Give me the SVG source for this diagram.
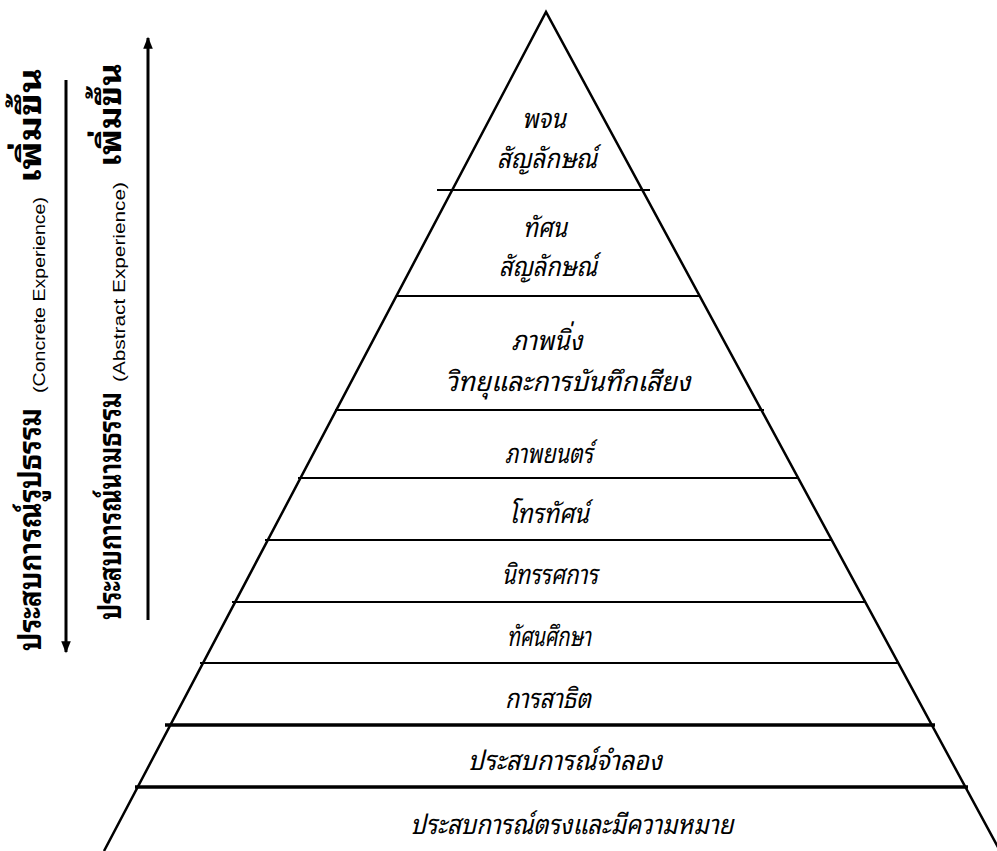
<svg xmlns="http://www.w3.org/2000/svg" width="997" height="851" viewBox="0 0 997 851">
<style>
.edge{fill:none;stroke:#000;stroke-width:2.5;stroke-linejoin:miter}
.sep{stroke:#000;stroke-width:2.2}
.sep2{stroke:#000;stroke-width:3.5}
.lbl{font-family:"Noto Sans Thai Looped","Noto Serif Thai","Noto Sans Thai","Noto Sans","DejaVu Sans",sans-serif;font-style:italic;font-size:27px;fill:#000;text-anchor:middle}
.side{font-family:"Noto Sans Thai Looped","Noto Sans Thai","Noto Sans","DejaVu Sans",sans-serif;font-weight:bold;font-size:31px;fill:#000}
.eng{font-family:"Liberation Sans",Arial,sans-serif;font-size:17px;fill:#000}
.arr{stroke:#000;stroke-width:3;fill:none}
</style>
<defs>
<marker id="ah" viewBox="0 0 10 10" refX="9" refY="5" markerWidth="4.5" markerHeight="4" orient="auto" markerUnits="strokeWidth">
<path d="M0,1 L10,5 L0,9 Z" fill="#000"/>
</marker>
</defs>
<rect width="997" height="851" fill="#fff"/>
<g id="pyramid">
<polyline class="edge" points="104,851 546,12 1000,851"/>
</g>
<g id="level1">
<line class="sep" x1="437" y1="190" x2="650" y2="190"/>
<text class="lbl" x="544" y="128" textLength="44" lengthAdjust="spacingAndGlyphs">พจน</text>
<text class="lbl" x="547" y="168" textLength="100" lengthAdjust="spacingAndGlyphs">สัญลักษณ์</text>
</g>
<g id="level2">
<line class="sep" x1="396" y1="296" x2="700" y2="296"/>
<text class="lbl" x="545" y="237" textLength="44" lengthAdjust="spacingAndGlyphs">ทัศน</text>
<text class="lbl" x="548" y="276" textLength="98" lengthAdjust="spacingAndGlyphs">สัญลักษณ์</text>
</g>
<g id="level3">
<line class="sep" x1="335" y1="410" x2="764" y2="410"/>
<text class="lbl" x="547" y="350" textLength="71" lengthAdjust="spacingAndGlyphs">ภาพนิ่ง</text>
<text class="lbl" x="568" y="391" textLength="245" lengthAdjust="spacingAndGlyphs">วิทยุและการบันทึกเสียง</text>
</g>
<g id="level4">
<line class="sep" x1="298" y1="478" x2="798" y2="478"/>
<text class="lbl" x="549" y="463" textLength="88" lengthAdjust="spacingAndGlyphs">ภาพยนตร์</text>
</g>
<g id="level5">
<line class="sep" x1="265" y1="540" x2="832" y2="540"/>
<text class="lbl" x="549" y="523" textLength="80" lengthAdjust="spacingAndGlyphs">โทรทัศน์</text>
</g>
<g id="level6">
<line class="sep" x1="232" y1="602" x2="866" y2="602"/>
<text class="lbl" x="550" y="584" textLength="96" lengthAdjust="spacingAndGlyphs">นิทรรศการ</text>
</g>
<g id="level7">
<line class="sep" x1="200" y1="663" x2="899" y2="663"/>
<text class="lbl" x="549" y="646" textLength="84" lengthAdjust="spacingAndGlyphs">ทัศนศึกษา</text>
</g>
<g id="level8">
<line class="sep2" x1="165" y1="725" x2="935" y2="725"/>
<text class="lbl" x="548" y="708" textLength="86" lengthAdjust="spacingAndGlyphs">การสาธิต</text>
</g>
<g id="level9">
<line class="sep2" x1="135" y1="787" x2="968" y2="787"/>
<text class="lbl" x="565" y="770" textLength="194" lengthAdjust="spacingAndGlyphs">ประสบการณ์จำลอง</text>
</g>
<g id="level10">
<text class="lbl" x="572" y="834" textLength="323" lengthAdjust="spacingAndGlyphs">ประสบการณ์ตรงและมีความหมาย</text>
</g>
<g id="connectors">
<line class="arr" x1="66" y1="80" x2="66" y2="652" marker-end="url(#ah)"/>
<line class="arr" x1="148" y1="620" x2="148" y2="38" marker-end="url(#ah)"/>
</g>
<g id="concrete-label">
<text class="side" transform="translate(41,651) rotate(-90)" textLength="243" lengthAdjust="spacingAndGlyphs">ประสบการณ์รูปธรรม</text>
<text class="eng" transform="translate(45,393) rotate(-90)" textLength="196" lengthAdjust="spacingAndGlyphs">(Concrete Experience)</text>
<text class="side" transform="translate(41,183) rotate(-90)" textLength="115" lengthAdjust="spacingAndGlyphs">เพิ่มขึ้น</text>
</g>
<g id="abstract-label">
<text class="side" transform="translate(121,620) rotate(-90)" textLength="228" lengthAdjust="spacingAndGlyphs">ประสบการณ์นามธรรม</text>
<text class="eng" transform="translate(125,382) rotate(-90)" textLength="200" lengthAdjust="spacingAndGlyphs">(Abstract Experience)</text>
<text class="side" transform="translate(121,167) rotate(-90)" textLength="104" lengthAdjust="spacingAndGlyphs">เพิ่มขึ้น</text>
</g>
</svg>
